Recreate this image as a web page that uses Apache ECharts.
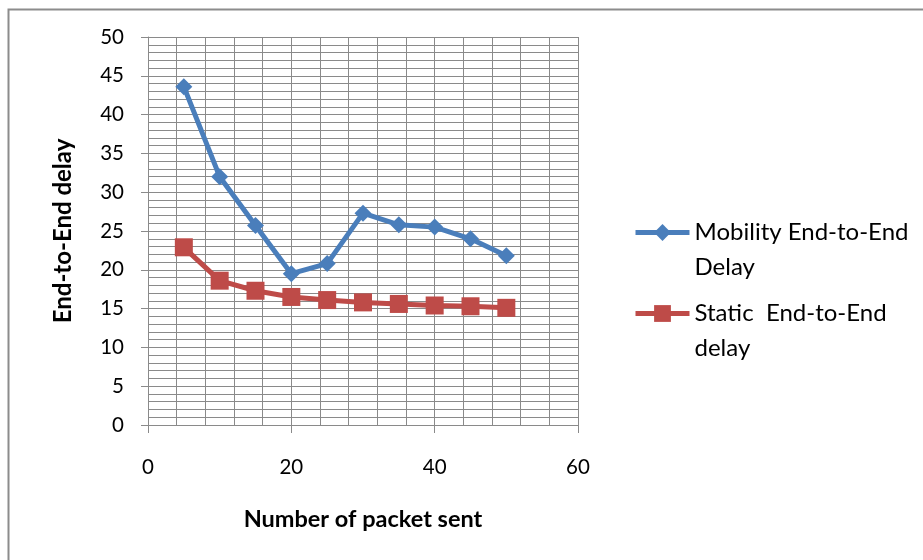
<!DOCTYPE html>
<html>
<head>
<meta charset="utf-8">
<script src="https://cdn.jsdelivr.net/npm/echarts@6/dist/echarts.min.js"></script>
<style>html,body{margin:0;padding:0;background:#fff}#c{width:923px;height:560px}</style>
</head>
<body>
<div id="c"></div>
<script>
const packets = [5, 10, 15, 20, 25, 30, 35, 40, 45, 50];
const mobilityDelay = [43.6, 32.0, 25.7, 19.5, 20.8, 27.3, 25.8, 25.5, 24.0, 21.8];
const staticDelay = [22.9, 18.6, 17.3, 16.5, 16.1, 15.8, 15.6, 15.4, 15.3, 15.1];
const seriesNames = ['Mobility End-to-End Delay', 'Static  End-to-End delay'];
const legendLines = {
  'Mobility End-to-End Delay': ['Mobility End-to-End', 'Delay'],
  'Static  End-to-End delay': ['Static  End-to-End', 'delay']
};
const xTitle = 'Number of packet sent';
const yTitle = 'End-to-End delay';

const FONT = 'Lato, "Open Sans", sans-serif';
const GRID = '#8a8a8a';
const chart = echarts.init(document.getElementById('c'), null, {renderer: 'canvas'});

function legendCfg(name, top) {
  return {
    show: true, data: [name], orient: 'vertical', left: 633, top: top, padding: 0,
    itemWidth: 54, itemHeight: 21, itemGap: 0, selectedMode: false,
    lineStyle: {width: 5},
    formatter: n => '{e| }\n{t|' + legendLines[n][0] + '}\n{t|' + legendLines[n][1] + '}',
    textStyle: {
      fontFamily: FONT, fontSize: 24, color: '#000', lineHeight: 35,
      rich: { e: {fontSize: 24, lineHeight: 35}, t: {fontSize: 24, lineHeight: 35, fontFamily: FONT, color: '#000'} }
    }
  };
}

chart.setOption({
  animation: false,
  backgroundColor: '#fff',
  graphic: [{
    type: 'rect', left: 6, top: 7, z: -10, silent: true,
    shape: {x: 0, y: 0, width: 1000, height: 700},
    style: {fill: 'none', stroke: '#8c8c8c', lineWidth: 2}
  }],
  grid: {left: 148, right: 345, top: 37, bottom: 135},
  legend: [legendCfg(seriesNames[0], 180), legendCfg(seriesNames[1], 261)],
  xAxis: {
    type: 'value', min: 0, max: 60, interval: 20,
    name: xTitle, nameLocation: 'middle', nameGap: 82,
    nameTextStyle: {fontFamily: FONT, fontSize: 23.5, fontWeight: 'bold', color: '#000'},
    axisLine: {show: true, lineStyle: {color: GRID, width: 1}},
    axisTick: {show: true, length: 8, lineStyle: {color: GRID}},
    axisLabel: {fontFamily: FONT, fontSize: 20.5, color: '#000', margin: 32},
    splitLine: {show: true, lineStyle: {color: GRID, width: 1}},
    minorTick: {show: false, splitNumber: 5},
    minorSplitLine: {show: true, lineStyle: {color: GRID, width: 1}}
  },
  yAxis: {
    type: 'value', min: 0, max: 50, interval: 5,
    name: yTitle, nameLocation: 'middle', nameGap: 73,
    nameTextStyle: {fontFamily: FONT, fontSize: 24, fontWeight: 'bold', color: '#000'},
    axisLine: {show: true, lineStyle: {color: GRID, width: 1}},
    axisTick: {show: true, length: 7, lineStyle: {color: GRID}},
    axisLabel: {fontFamily: FONT, fontSize: 20.5, color: '#000', margin: 24},
    splitLine: {show: true, lineStyle: {color: GRID, width: 1}},
    minorTick: {show: false, splitNumber: 5},
    minorSplitLine: {show: true, lineStyle: {color: GRID, width: 1}}
  },
  series: [
    {
      name: seriesNames[0], type: 'line',
      data: packets.map((p, i) => [p, mobilityDelay[i]]),
      symbol: 'diamond', symbolSize: 17,
      lineStyle: {color: '#4a7ebb', width: 5},
      itemStyle: {color: '#4a7ebb'}
    },
    {
      name: seriesNames[1], type: 'line',
      data: packets.map((p, i) => [p, staticDelay[i]]),
      symbol: 'rect', symbolSize: 18,
      lineStyle: {color: '#be4b48', width: 5},
      itemStyle: {color: '#be4b48'}
    }
  ]
});
</script>
</body>
</html>
